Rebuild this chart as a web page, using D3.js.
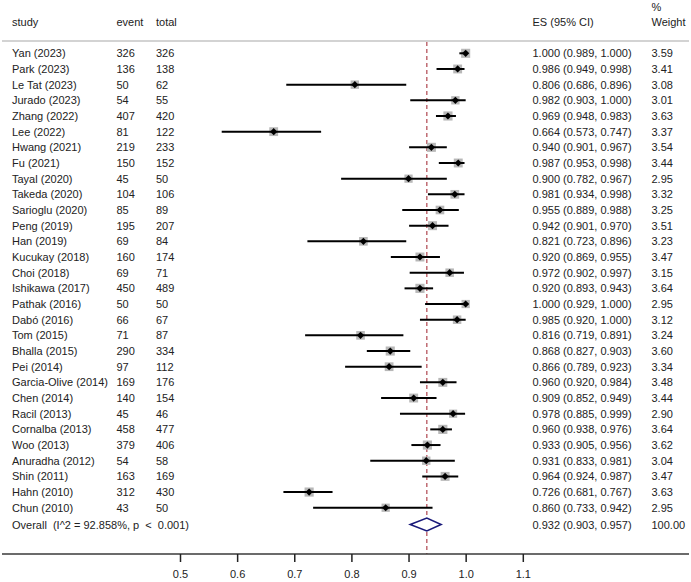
<!DOCTYPE html>
<html>
<head>
<meta charset="utf-8">
<script src="https://cdn.jsdelivr.net/npm/d3@7"></script>
<style>
  html, body { margin: 0; padding: 0; background: #fff; }
  svg { display: block; }
  text { font-family: "Liberation Sans", Arial, sans-serif; font-size: 11px; fill: #222; }
</style>
</head>
<body>
<svg id="chart" width="691" height="582"></svg>
<script>
const studies = ["Yan (2023)","Park (2023)","Le Tat (2023)","Jurado (2023)","Zhang (2022)","Lee (2022)","Hwang (2021)","Fu (2021)","Tayal (2020)","Takeda (2020)","Sarioglu (2020)","Peng (2019)","Han (2019)","Kucukay (2018)","Choi (2018)","Ishikawa (2017)","Pathak (2016)","Dabó (2016)","Tom (2015)","Bhalla (2015)","Pei (2014)","Garcia-Olive (2014)","Chen (2014)","Racil (2013)","Cornalba (2013)","Woo (2013)","Anuradha (2012)","Shin (2011)","Hahn (2010)","Chun (2010)"];
const events = [326,136,50,54,407,81,219,150,45,104,85,195,69,160,69,450,50,66,71,290,97,169,140,45,458,379,54,163,312,43];
const totals = [326,138,62,55,420,122,233,152,50,106,89,207,84,174,71,489,50,67,87,334,112,176,154,46,477,406,58,169,430,50];
const es =    [1.000,0.986,0.806,0.982,0.969,0.664,0.940,0.987,0.900,0.981,0.955,0.942,0.821,0.920,0.972,0.920,1.000,0.985,0.816,0.868,0.866,0.960,0.909,0.978,0.960,0.933,0.931,0.964,0.726,0.860];
const lower = [0.989,0.949,0.686,0.903,0.948,0.573,0.901,0.953,0.782,0.934,0.889,0.901,0.723,0.869,0.902,0.893,0.929,0.920,0.719,0.827,0.789,0.920,0.852,0.885,0.938,0.905,0.833,0.924,0.681,0.733];
const upper = [1.000,0.998,0.896,1.000,0.983,0.747,0.967,0.998,0.967,0.998,0.988,0.970,0.896,0.955,0.997,0.943,1.000,1.000,0.891,0.903,0.923,0.984,0.949,0.999,0.976,0.956,0.981,0.987,0.767,0.942];
const weights = [3.59,3.41,3.08,3.01,3.63,3.37,3.54,3.44,2.95,3.32,3.25,3.51,3.23,3.47,3.15,3.64,2.95,3.12,3.24,3.60,3.34,3.48,3.44,2.90,3.64,3.62,3.04,3.47,3.63,2.95];
const overall = { label: "Overall  (I^2 = 92.858%, p  <  0.001)", es: 0.932, lo: 0.903, hi: 0.957, weight: "100.00" };
const xTicks = [0.5,0.6,0.7,0.8,0.9,1.0,1.1];

const svg = d3.select("#chart");
const x = d3.scaleLinear().domain([0.5, 1.1]).range([180, 522.8]);
const y = d3.scaleLinear().domain([0, 1]).range([53.3, 53.3 + 15.67]);
const yOverall = 524.5;
const axisY = 554;
const fmt = d3.format(".3f");

// header
const hdr = svg.append("g");
hdr.append("text").attr("x", 12).attr("y", 26).text("study");
hdr.append("text").attr("x", 116.5).attr("y", 26).text("event");
hdr.append("text").attr("x", 156).attr("y", 26).text("total");
hdr.append("text").attr("x", 532.5).attr("y", 26).text("ES (95% CI)");
hdr.append("text").attr("x", 651.5).attr("y", 11).text("%");
hdr.append("text").attr("x", 651.5).attr("y", 26).text("Weight");
svg.append("line").attr("x1", 2).attr("x2", 689).attr("y1", 41).attr("y2", 41)
  .attr("stroke", "#c4c4c4").attr("stroke-width", 1.5);

// reference line
svg.append("line").attr("x1", x(overall.es)).attr("x2", x(overall.es))
  .attr("y1", 42).attr("y2", axisY)
  .attr("stroke", "#b5545c").attr("stroke-width", 1.3).attr("stroke-dasharray", "4,3");

// rows
const rows = svg.append("g").selectAll("g").data(studies).join("g");
rows.append("text").attr("x", 12).attr("y", (d, i) => y(i) + 4).text(d => d);
rows.append("text").attr("x", 116.5).attr("y", (d, i) => y(i) + 4).text((d, i) => events[i]);
rows.append("text").attr("x", 156).attr("y", (d, i) => y(i) + 4).text((d, i) => totals[i]);
rows.append("text").attr("x", 532.5).attr("y", (d, i) => y(i) + 4)
  .text((d, i) => `${fmt(es[i])} (${fmt(lower[i])}, ${fmt(upper[i])})`);
rows.append("text").attr("x", 651.5).attr("y", (d, i) => y(i) + 4).text((d, i) => weights[i].toFixed(2));

// weight squares
rows.append("rect")
  .attr("x", (d, i) => x(es[i]) - 2.4 * Math.sqrt(weights[i]))
  .attr("y", (d, i) => y(i) - 2.4 * Math.sqrt(weights[i]))
  .attr("width", (d, i) => 4.8 * Math.sqrt(weights[i]))
  .attr("height", (d, i) => 4.8 * Math.sqrt(weights[i]))
  .attr("fill", "#b8b8b8");
// CI lines
rows.append("line")
  .attr("x1", (d, i) => x(lower[i])).attr("x2", (d, i) => x(upper[i]))
  .attr("y1", (d, i) => y(i)).attr("y2", (d, i) => y(i))
  .attr("stroke", "#000").attr("stroke-width", 2);
// point diamonds
rows.append("path")
  .attr("d", (d, i) => {
    const cx = x(es[i]), cy = y(i), r = 3.6;
    return `M${cx - r},${cy}L${cx},${cy - r}L${cx + r},${cy}L${cx},${cy + r}Z`;
  })
  .attr("fill", "#000");

// overall
svg.append("text").attr("x", 12).attr("y", yOverall + 4).style("white-space", "pre").text(overall.label);
svg.append("text").attr("x", 532.5).attr("y", yOverall + 4)
  .text(`${fmt(overall.es)} (${fmt(overall.lo)}, ${fmt(overall.hi)})`);
svg.append("text").attr("x", 651.5).attr("y", yOverall + 4).text(overall.weight);
svg.append("path")
  .attr("d", `M${x(overall.lo)},${yOverall}L${x(overall.es)},${yOverall - 6.5}L${x(overall.hi)},${yOverall}L${x(overall.es)},${yOverall + 6.5}Z`)
  .attr("fill", "#fff").attr("stroke", "#1a1a7a").attr("stroke-width", 1.6);

// axis
svg.append("line").attr("x1", 2).attr("x2", 689).attr("y1", axisY).attr("y2", axisY)
  .attr("stroke", "#3a3a3a").attr("stroke-width", 1.5);
const axis = d3.axisBottom(x).tickValues(xTicks).tickFormat(d3.format(".1f")).tickSize(8).tickPadding(8);
const ag = svg.append("g").attr("transform", `translate(0,${axisY})`).call(axis);
ag.select(".domain").remove();
ag.selectAll(".tick line").attr("stroke", "#222").attr("stroke-width", 1.5);
ag.selectAll(".tick text").style("font-family", '"Liberation Sans", Arial, sans-serif').style("font-size", "11px").attr("fill", "#333");
</script>
</body>
</html>
